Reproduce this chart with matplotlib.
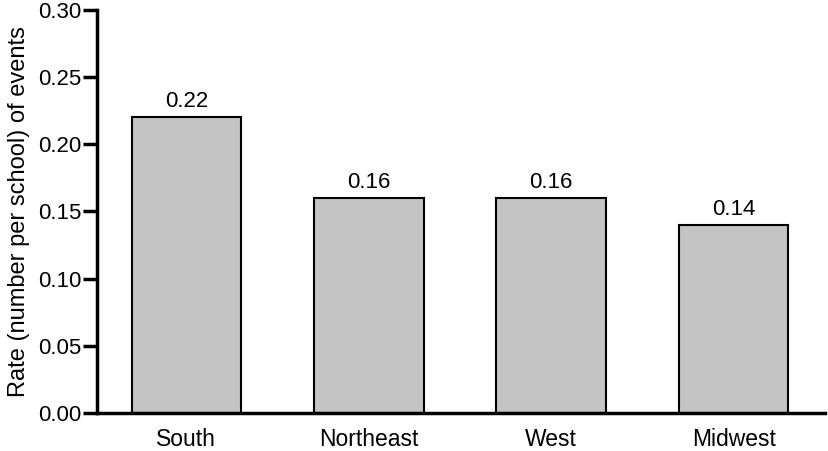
import matplotlib
matplotlib.use("Agg")
import matplotlib.pyplot as plt

regions = ["South", "Northeast", "West", "Midwest"]
rates = [0.22, 0.16, 0.16, 0.14]
labels = ["0.22", "0.16", "0.16", "0.14"]
yticks = [0.00, 0.05, 0.10, 0.15, 0.20, 0.25, 0.30]

plt.rcParams['font.family'] = ['Liberation Sans', 'DejaVu Sans']

fig = plt.figure(figsize=(8.29, 4.51), dpi=100)
ax = fig.add_axes([0.117, 0.0843, 0.878, 0.8937])

x = list(range(len(regions)))
bars = ax.bar(x, rates, width=0.6, color="#c4c4c4", edgecolor="black", linewidth=1.5, zorder=2)
for b, lab in zip(bars, labels):
    ax.text(b.get_x() + b.get_width() / 2, b.get_height() + 0.004, lab,
            ha="center", va="bottom", fontsize=16)

ax.set_xlim(-0.49, 3.5)
ax.set_ylim(0, 0.30)
ax.set_yticks(yticks)
ax.set_yticklabels([f"{v:.2f}" for v in yticks], fontsize=16)
ax.set_xticks(x)
ax.set_xticklabels(regions, fontsize=16.5)
ax.tick_params(axis="x", length=0, pad=11)
ax.tick_params(axis="y", length=10, width=2.5, pad=1)
ax.set_ylabel("Rate (number per school) of events", fontsize=17, labelpad=6)

for s in ["top", "right"]:
    ax.spines[s].set_visible(False)
for s in ["left", "bottom"]:
    ax.spines[s].set_linewidth(2.5)

fig.savefig("out.png", dpi=100)
